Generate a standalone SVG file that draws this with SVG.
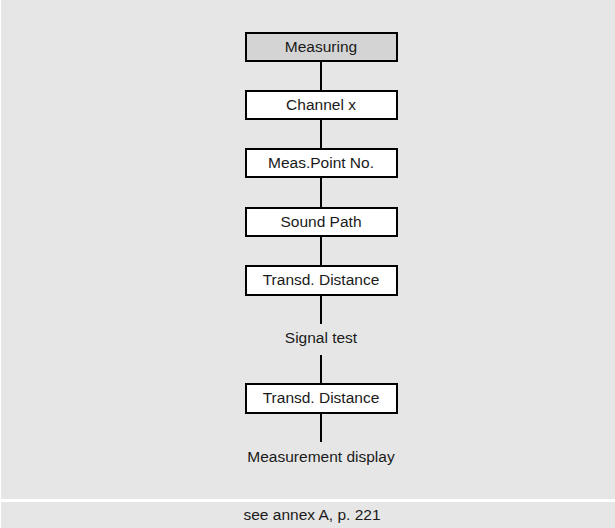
<svg xmlns="http://www.w3.org/2000/svg" width="615" height="528" viewBox="0 0 615 528">
<style>
.box{fill:#ffffff;stroke:#000000;stroke-width:2}
.hdr{fill:#d4d4d4}
.t{font-family:"Liberation Sans",Arial,sans-serif;font-size:15.5px;fill:#1a1a1a;text-anchor:middle}
.c{stroke:#000000;stroke-width:2;fill:none}
</style>
<rect x="0" y="0" width="615" height="528" fill="#ffffff"/>
<rect x="1" y="0" width="614" height="499" fill="#e6e6e6"/>
<rect x="1" y="502" width="614" height="26" fill="#e6e6e6"/>
<g id="connectors">
<line class="c" x1="321" y1="61" x2="321" y2="90"/>
<line class="c" x1="321" y1="119" x2="321" y2="148"/>
<line class="c" x1="321" y1="177" x2="321" y2="207"/>
<line class="c" x1="321" y1="236" x2="321" y2="265"/>
<line class="c" x1="321" y1="295" x2="321" y2="324"/>
<line class="c" x1="321" y1="355" x2="321" y2="384"/>
<line class="c" x1="321" y1="413" x2="321" y2="442"/>
</g>
<g id="n1"><rect class="box hdr" x="246" y="33" width="151" height="28"/><text class="t" x="321" y="52">Measuring</text></g>
<g id="n2"><rect class="box" x="246" y="91" width="151" height="28"/><text class="t" x="321" y="110">Channel x</text></g>
<g id="n3"><rect class="box" x="246" y="149" width="151" height="28"/><text class="t" x="321" y="168">Meas.Point No.</text></g>
<g id="n4"><rect class="box" x="246" y="208" width="151" height="28"/><text class="t" x="321" y="227">Sound Path</text></g>
<g id="n5"><rect class="box" x="246" y="266" width="151" height="29"/><text class="t" x="321" y="285">Transd. Distance</text></g>
<g id="n6"><text class="t" x="321" y="343">Signal test</text></g>
<g id="n7"><rect class="box" x="246" y="384" width="151" height="29"/><text class="t" x="321" y="403">Transd. Distance</text></g>
<g id="n8"><text class="t" x="321" y="462">Measurement display</text></g>
<text class="t" x="312" y="520">see annex A, p. 221</text>
</svg>
